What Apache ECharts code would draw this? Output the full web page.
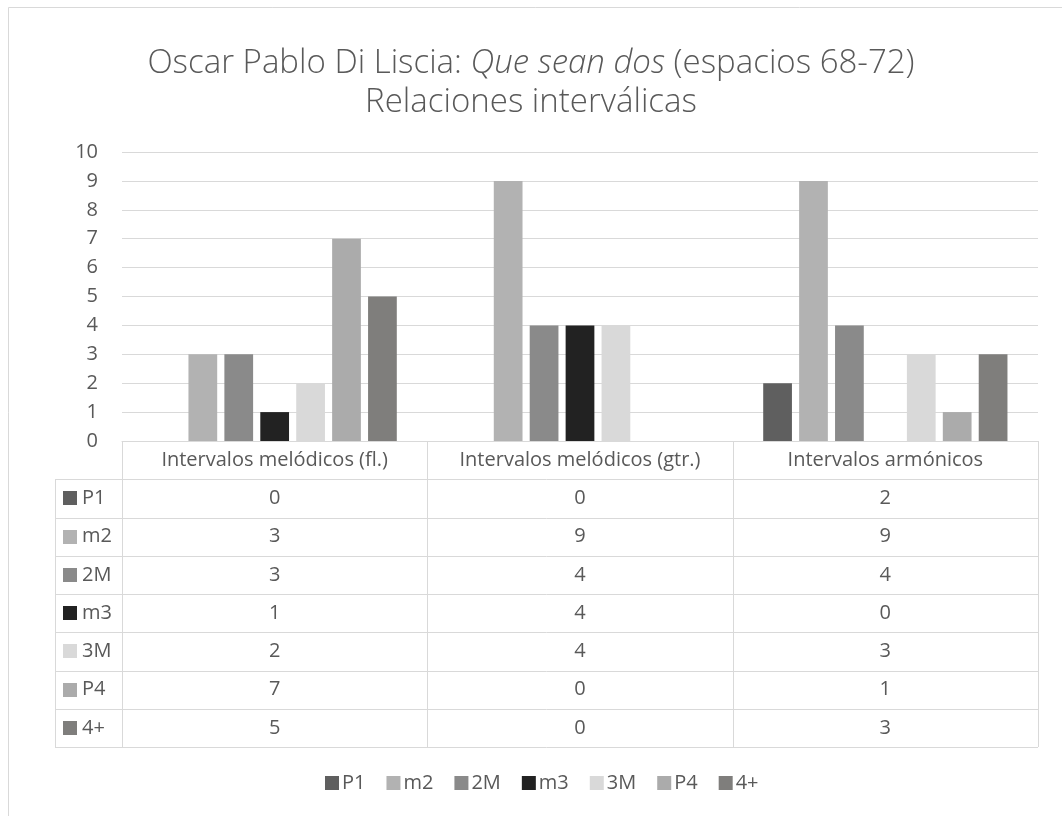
<!DOCTYPE html>
<html>
<head>
<meta charset="utf-8">
<script src="https://cdn.jsdelivr.net/npm/echarts@6/dist/echarts.min.js"></script>
<style>
  html, body { margin: 0; padding: 0; background: #ffffff; }
  #chart { width: 1062px; height: 816px; }
</style>
</head>
<body>
<div id="chart"></div>
<script>
// Interval counts per passage
const categories = ['Intervalos melódicos (fl.)', 'Intervalos melódicos (gtr.)', 'Intervalos armónicos'];
const intervalNames = ['P1', 'm2', '2M', 'm3', '3M', 'P4', '4+'];
const P1 = [0, 0, 2];
const m2 = [3, 9, 9];
const M2 = [3, 4, 4];
const m3 = [1, 4, 0];
const M3 = [2, 4, 3];
const P4 = [7, 0, 1];
const A4 = [5, 0, 3];
const yMin = 0, yMax = 10, yStep = 1;

const seriesValues = [P1, m2, M2, m3, M3, P4, A4];
const barColors = ['#5f5f5f', '#b2b2b2', '#8a8a8a', '#222222', '#d9d9d9', '#ababab', '#7f7e7c'];

const FONT = '"Open Sans", "Noto Sans", sans-serif';
const TEXT = '#595959';
const RULE = '#d9d9d9';
const ROW_H = 38.25;
const FS = 20;

const chart = echarts.init(document.getElementById('chart'), null, { renderer: 'canvas' });

const option = {
  animation: false,
  backgroundColor: '#ffffff',
  title: {
    left: 'center',
    top: 39,
    text: '{n|Oscar Pablo Di Liscia: }{i|Que sean dos}{n| (espacios 68-72)}\n{n|Relaciones interválicas}',
    textStyle: {
      fontWeight: 'normal',
      rich: {
        n: { fontFamily: FONT, fontSize: 33, fontWeight: 300, color: TEXT, lineHeight: 39 },
        i: { fontFamily: FONT, fontSize: 33, fontWeight: 300, color: TEXT, lineHeight: 39, fontStyle: 'italic' }
      }
    }
  },
  legend: {
    left: 325,
    top: 773,
    padding: 0,
    itemWidth: 14,
    itemHeight: 14,
    itemGap: 21,
    icon: 'rect',
    textStyle: { fontFamily: FONT, fontSize: FS, color: TEXT, padding: [0, 0, 0, -2] },
    data: intervalNames
  },
  grid: { left: 122, right: 24, top: 152, bottom: 375 },
  xAxis: {
    type: 'category',
    data: categories,
    axisLine: { show: true, lineStyle: { color: RULE, width: 1 } },
    axisTick: { show: false },
    axisLabel: { fontFamily: FONT, fontSize: FS, color: TEXT, margin: 9, interval: 0 }
  },
  yAxis: {
    type: 'value',
    min: yMin, max: yMax, interval: yStep,
    axisLine: { show: false },
    axisTick: { show: false },
    axisLabel: { fontFamily: FONT, fontSize: FS, color: TEXT, margin: 24 },
    splitLine: { lineStyle: { color: RULE, width: 1 } }
  },
  series: intervalNames.map((name, i) => ({
    name: name,
    type: 'bar',
    data: seriesValues[i],
    barGap: '25%',
    barCategoryGap: '20%',
    itemStyle: { color: barColors[i] }
  }))
};

chart.setOption(option);

// Data table under the plot, laid out on the category axis columns
function buildTable() {
  const base = chart.convertToPixel({ yAxisIndex: 0 }, yMin);
  const c0 = chart.convertToPixel({ xAxisIndex: 0 }, 0);
  const c1 = chart.convertToPixel({ xAxisIndex: 0 }, 1);
  const colW = c1 - c0;
  const left = c0 - colW / 2;
  const right = left + colW * categories.length;
  const keyLeft = 55;
  const bottom = base + ROW_H * (intervalNames.length + 1);
  const els = [];
  const line = (x1, y1, x2, y2) => els.push({
    type: 'line', silent: true,
    shape: { x1: x1, y1: y1, x2: x2, y2: y2 },
    style: { stroke: RULE, lineWidth: 1 }
  });

  // outer chart frame
  els.push({ type: 'rect', silent: true, shape: { x: 8.5, y: 7.5, width: 1100, height: 900 },
    style: { fill: null, stroke: RULE, lineWidth: 1 } });

  // horizontal rules
  for (let k = 1; k <= intervalNames.length + 1; k++) {
    const y = Math.round(base + ROW_H * k) + 0.5;
    line(keyLeft, y, right, y);
  }
  // vertical rules
  line(keyLeft + 0.5, base + ROW_H, keyLeft + 0.5, bottom);
  for (let c = 0; c <= categories.length; c++) {
    const x = Math.round(left + colW * c) + 0.5;
    line(x, base, x, bottom);
  }
  // row keys and values
  intervalNames.forEach((name, r) => {
    const cy = base + ROW_H * (r + 1.5);
    els.push({ type: 'rect', silent: true,
      shape: { x: 63, y: Math.round(cy - 7), width: 14, height: 14 },
      style: { fill: barColors[r] } });
    els.push({ type: 'text', silent: true, x: 82, y: cy,
      style: { text: name, font: FS + 'px ' + FONT, fill: TEXT, textAlign: 'left', textVerticalAlign: 'middle' } });
    seriesValues[r].forEach((v, c) => {
      els.push({ type: 'text', silent: true,
        x: chart.convertToPixel({ xAxisIndex: 0 }, c), y: cy,
        style: { text: String(v), font: FS + 'px ' + FONT, fill: TEXT, textAlign: 'center', textVerticalAlign: 'middle' } });
    });
  });
  chart.setOption({ graphic: { elements: els } });
}
buildTable();
</script>
</body>
</html>
